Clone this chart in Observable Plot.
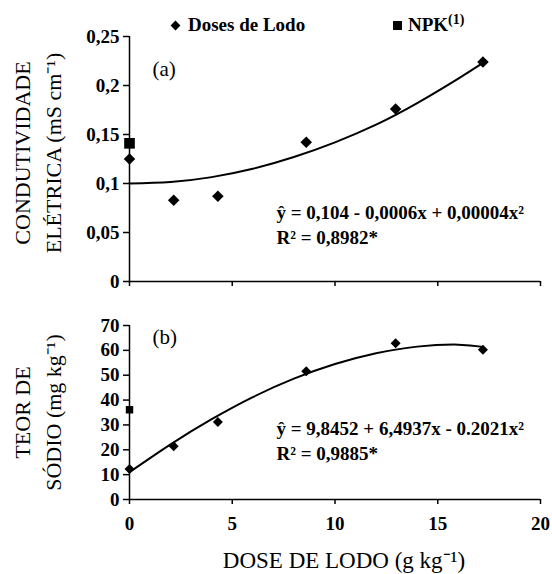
<!DOCTYPE html>
<html>
<head>
<meta charset="utf-8">
<script src="https://cdn.jsdelivr.net/npm/d3@7"></script>
<script src="https://cdn.jsdelivr.net/npm/@observablehq/plot@0.6"></script>
<style>
  body { margin: 0; background: #fff; }
  #wrap { position: relative; width: 552px; height: 574px; font-family: "Liberation Serif", serif; color: #000; }
  #top, #bottom { position: absolute; left: 0; }
  #top { top: 0; }
  #bottom { top: 300px; }
  svg [aria-label^="y-axis"], svg [aria-label^="x-axis"] { stroke-width: 1.5px; }
  .legend { position: absolute; top: 14px; font: bold 19px "Liberation Serif", serif; white-space: nowrap; line-height: 22px; }
  .legend sup { font-size: 14px; vertical-align: 7px; line-height: 0; }
  .dia { display: inline-block; width: 7px; height: 7px; background: #000; transform: rotate(45deg); margin-right: 9px; vertical-align: 2px; }
  .sq { display: inline-block; width: 9px; height: 9px; background: #000; margin-right: 6px; vertical-align: 1px; }
</style>
</head>
<body>
<div id="wrap">
  <div id="top"></div>
  <div id="bottom"></div>
  <div class="legend" style="left:172px"><span class="dia"></span>Doses de Lodo</div>
  <div class="legend" style="left:393px"><span class="sq"></span>NPK<sup>(1)</sup></div>
</div>
<script>
// ---- data ----
const doses = [0, 2.15, 4.3, 8.6, 12.95, 17.2];          // g kg-1
const ceDoses = [0.125, 0.083, 0.087, 0.142, 0.176, 0.224]; // mS cm-1
const ceNpk = [0.141];
const naDoses = [12.3, 21.4, 31.2, 51.6, 62.9, 60.2];     // mg kg-1
const naNpk = [36.1];
// fitted trend curves as drawn (read at these doses)
const curveX = [0, 2, 4, 6, 8, 10, 12, 14, 16, 17.2];
const ceCurve = [0.100, 0.1015, 0.1065, 0.115, 0.127, 0.142, 0.160, 0.182, 0.207, 0.223];
const naCurve = [11.0, 22.2, 32.3, 41.2, 48.6, 54.5, 58.8, 61.5, 62.3, 61.4];
// ticks
const xTicks = [0, 5, 10, 15, 20];
const ceTicks = [0, 0.05, 0.1, 0.15, 0.2, 0.25];
const naTicks = [0, 10, 20, 30, 40, 50, 60, 70];
// texts
const ceTitle = "CONDUTIVIDADE\nELÉTRICA (mS cm⁻¹)";
const naTitle = "TEOR DE\nSÓDIO (mg kg⁻¹)";
const ceEq = ["ŷ = 0,104 - 0,0006x + 0,00004x²", "R² = 0,8982*"];
const naEq = ["ŷ = 9,8452 + 6,4937x - 0.2021x²", "R² = 0,9885*"];
const xTitle = "DOSE DE LODO (g kg⁻¹)";

const comma = d => String(d).replace(".", ",");
const font = {fontFamily: "Liberation Serif, serif", fontSize: "19px", fontWeight: "bold", color: "#000", background: "#fff", overflow: "visible"};

const pts = (xs, ys) => xs.map((x, i) => ({x, y: ys[i]}));

function panel({height, marginTop, marginBottom, yDomain, yTicks, yFmt, curve, pointsD, npk, title, tag, eq, showX, diaR, sqR, pos}) {
  const marks = [
    Plot.line(pts(curveX, curve), {x: "x", y: "y", curve: "natural", stroke: "#000", strokeWidth: 2}),
    Plot.ruleX([0], {stroke: "#000", strokeWidth: 1.5}),
    Plot.ruleY([0], {stroke: "#000", strokeWidth: 1.5}),
    Plot.dot(pts([0], npk), {x: "x", y: "y", symbol: "square", r: sqR, fill: "#000"}),
    Plot.dot(pts(doses, pointsD), {x: "x", y: "y", symbol: "diamond2", r: diaR, fill: "#000"}),
    Plot.text([tag], {frameAnchor: "top-left", dx: 23, dy: pos.tag, textAnchor: "start", lineAnchor: "middle", fontWeight: "normal", fontSize: 21}),
    Plot.text([eq[0]], {frameAnchor: "top-left", dx: 147, dy: pos.l1, textAnchor: "start", lineAnchor: "middle", fontSize: 19}),
    Plot.text([eq[1]], {frameAnchor: "top-left", dx: 147, dy: pos.l2, textAnchor: "start", lineAnchor: "middle", fontSize: 19}),
    Plot.text([title], {frameAnchor: "left", dx: -94, dy: pos.title, rotate: -90, textAnchor: "middle", lineAnchor: "middle", lineHeight: 1.4, fontWeight: "normal", fontSize: 22})
  ];
  if (showX) marks.push(Plot.text([xTitle], {frameAnchor: "bottom", dx: 9, dy: 61, textAnchor: "middle", lineAnchor: "middle", fontWeight: "normal", fontSize: 23}));
  return Plot.plot({
    width: 552, height,
    marginLeft: 129, marginRight: 12, marginTop, marginBottom,
    style: font,
    x: {domain: [0, 20], ticks: xTicks, tickSize: 5, tickPadding: 12, tickFormat: showX ? (d => String(d)) : (() => ""), label: null},
    y: {domain: yDomain, ticks: yTicks, tickSize: 6, tickPadding: 4, tickFormat: yFmt, label: null},
    marks
  });
}

document.getElementById("top").append(panel({
  height: 300, marginTop: 36, marginBottom: 19,
  yDomain: [0, 0.25], yTicks: ceTicks, yFmt: comma,
  curve: ceCurve, pointsD: ceDoses, npk: ceNpk, title: ceTitle, tag: "(a)", eq: ceEq, showX: false,
  diaR: 5.2, sqR: 6.0, pos: {tag: 33, l1: 176, l2: 201, title: -6}
}));
document.getElementById("bottom").append(panel({
  height: 274, marginTop: 25, marginBottom: 75,
  yDomain: [0, 70], yTicks: naTicks, yFmt: d => String(d),
  curve: naCurve, pointsD: naDoses, npk: naNpk, title: naTitle, tag: "(b)", eq: naEq, showX: true,
  diaR: 4.5, sqR: 4.2, pos: {tag: 12, l1: 103, l2: 128, title: 0}
}));
</script>
</body>
</html>
